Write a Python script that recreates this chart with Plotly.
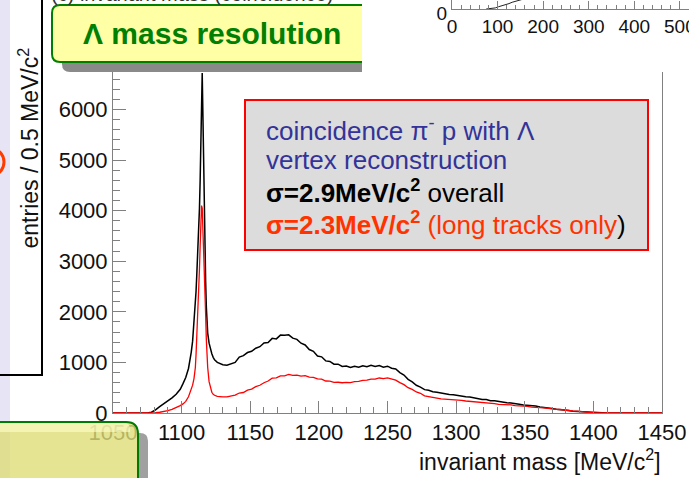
import plotly.graph_objects as go

W, H = 689, 478
FONT = "Liberation Sans, Arial, Helvetica, sans-serif"

# invariant mass sampling points [MeV/c^2]
mass = [
    1050, 1060, 1070, 1075, 1078, 1081, 1084, 1087, 1090, 1093, 1096, 1099,
    1101, 1103, 1105, 1106, 1107, 1108, 1109, 1110,
    1110.5, 1111, 1111.5, 1112, 1112.5, 1113, 1113.5, 1114, 1114.5, 1115,
    1115.5, 1116, 1116.5, 1117, 1117.5, 1118, 1118.5, 1119,
    1120, 1121, 1122, 1123, 1124, 1126, 1128, 1130,
    1133, 1136, 1139, 1142, 1145, 1148, 1151, 1154, 1157, 1160,
    1163, 1166, 1169, 1172, 1175, 1178, 1181, 1184, 1187, 1190,
    1193, 1196, 1199, 1202, 1205, 1208, 1211, 1214, 1217, 1220,
    1223, 1226, 1229, 1232, 1235, 1238, 1241, 1244, 1247, 1250,
    1253, 1256, 1259, 1262, 1265, 1268, 1271, 1274, 1277, 1280,
    1283, 1286, 1289, 1292, 1295, 1298, 1301, 1304, 1307, 1310,
    1313, 1316, 1319, 1322, 1325, 1328, 1331, 1334, 1337, 1340,
    1343, 1346, 1349, 1352, 1355, 1358, 1361, 1364, 1367, 1370,
    1373, 1376, 1379, 1382, 1385, 1388, 1391, 1394, 1397, 1400,
    1410, 1420, 1430, 1440, 1450,
]

# entries / 0.5 MeV/c^2, all pi- p coincidences
entries_all = [
    0, 0, 0, 0, 15, 60, 125, 180, 235, 300, 370, 470,
    580, 700, 880, 1020, 1200, 1420, 1750, 2150,
    2400, 2700, 3000, 3300, 3650, 4050, 4600, 5400, 6400, 6720,
    5900, 4900, 4000, 3250, 2600, 2100, 1800, 1580,
    1380, 1250, 1170, 1100, 1050, 1000, 970, 955,
    945, 970, 1000, 1105, 1135, 1195, 1220, 1280, 1310, 1385,
    1395, 1475, 1465, 1540, 1535, 1545, 1480, 1455, 1380, 1345,
    1255, 1220, 1125, 1110, 1030, 1020, 965, 965, 920, 930,
    900, 925, 905, 935, 915, 945, 920, 940, 905, 925,
    885, 870, 800, 750, 665, 615, 548, 512, 462, 450,
    420, 410, 390, 385, 365, 362, 346, 340, 320, 314,
    294, 289, 266, 265, 244, 241, 224, 218, 201, 199,
    180, 175, 159, 155, 141, 138, 118, 113, 95, 90,
    76, 70, 56, 50, 36, 32, 20, 16, 8, 5,
    1, 0, 0, 0, 0,
]

# entries / 0.5 MeV/c^2, long tracks only
entries_long = [
    0, 0, 0, 0, 3, 8, 15, 28, 45, 70, 105, 145,
    180, 230, 320, 390, 460, 550, 680, 900,
    1150, 1450, 1800, 2150, 2500, 2850, 3300, 3800, 4100, 4050,
    3700, 3200, 2850, 2500, 1950, 1450, 1150, 900,
    620, 480, 410, 370, 350, 330, 322, 318,
    318, 340, 355, 395, 405, 452, 472, 522, 548, 598,
    632, 688, 695, 735, 735, 762, 742, 750, 730, 738,
    710, 706, 675, 668, 632, 630, 606, 608, 598, 604,
    602, 620, 625, 646, 648, 670, 668, 692, 680, 694,
    668, 650, 600, 560, 500, 466, 416, 390, 340, 322,
    296, 293, 279, 275, 265, 265, 255, 251, 237, 231,
    219, 215, 201, 201, 187, 185, 172, 173, 161, 161,
    147, 145, 131, 129, 117, 119, 107, 103, 89, 87,
    73, 69, 55, 53, 40, 38, 26, 22, 12, 9,
    2, 0, 0, 0, 0,
]

x_ticks = [1050, 1100, 1150, 1200, 1250, 1300, 1350, 1400, 1450]
y_ticks = [0, 1000, 2000, 3000, 4000, 5000, 6000]

# small neighbouring panel (top right)
inset_x = [75, 85, 95, 102, 110, 118, 125, 132, 140, 150, 160]
inset_y = [0, 0.5, 1.2, 2.5, 3.5, 4.8, 6.0, 7.5, 8.5, 10.0, 11.5]
inset_ticks = [0, 100, 200, 300, 400, 500]


def px(x):
    return x / W


def py(y):
    return 1 - y / H


def rounded_path(x0, y0, x1, y1, r_tl=0, r_tr=0, r_br=0, r_bl=0):
    """Rounded rectangle in pixel coords -> closed SVG path in paper coords."""
    def P(x, y):
        return f"{px(x):.5f},{py(y):.5f}"
    segs = [f"M{P(x0 + r_tl, y0)}",
            f"L{P(x1 - r_tr, y0)}",
            f"Q{P(x1, y0)} {P(x1, y0 + r_tr)}",
            f"L{P(x1, y1 - r_br)}",
            f"Q{P(x1, y1)} {P(x1 - r_br, y1)}",
            f"L{P(x0 + r_bl, y1)}",
            f"Q{P(x0, y1)} {P(x0, y1 - r_bl)}",
            f"L{P(x0, y0 + r_tl)}",
            f"Q{P(x0, y0)} {P(x0 + r_tl, y0)}"]
    return " ".join(segs) + " Z"


def open_path(points):
    def P(x, y):
        return f"{px(x):.5f},{py(y):.5f}"
    out = []
    for i, p in enumerate(points):
        if p[0] == "Q":
            out.append(f"Q{P(*p[1])} {P(*p[2])}")
        else:
            out.append(("M" if i == 0 else "L") + P(*p))
    return " ".join(out)


fig = go.Figure()

fig.add_trace(go.Scatter(
    x=mass, y=entries_all, mode="lines",
    line=dict(color="#000000", width=1.5),
    xaxis="x", yaxis="y", hoverinfo="skip"))
fig.add_trace(go.Scatter(
    x=mass, y=entries_long, mode="lines",
    line=dict(color="#ff0000", width=1.3),
    xaxis="x", yaxis="y", hoverinfo="skip"))
fig.add_trace(go.Scatter(
    x=inset_x, y=inset_y, mode="lines",
    line=dict(color="#222222", width=1),
    xaxis="x2", yaxis="y2", hoverinfo="skip"))

AX = "#808080"

shapes = []

# lavender slide strip on the left edge
shapes.append(dict(type="rect", xref="paper", yref="paper",
                   x0=px(-5), x1=px(10), y0=py(-5), y1=py(H + 5),
                   fillcolor="#e6e4f5", line=dict(width=0), layer="above"))
# frame of the neighbouring panel
shapes.append(dict(type="rect", xref="paper", yref="paper",
                   x0=px(-5), x1=px(42), y0=py(-5), y1=py(375),
                   fillcolor="rgba(0,0,0,0)",
                   line=dict(color="#000000", width=2), layer="above"))
# orange circle marker, mostly off the left edge
shapes.append(dict(type="circle", xref="paper", yref="paper",
                   x0=px(-24), x1=px(4), y0=py(148), y1=py(176),
                   fillcolor="rgba(0,0,0,0)",
                   line=dict(color="#ff3c00", width=3), layer="above"))

# title box: shadow, fill, border (cut on the right)
shapes.append(dict(type="path", xref="paper", yref="paper",
                   path=rounded_path(62, 15, 362, 72, r_tl=8, r_bl=8),
                   fillcolor="#8a8a8a", line=dict(width=0), layer="above"))
shapes.append(dict(type="path", xref="paper", yref="paper",
                   path=rounded_path(52, 5, 362, 62, r_tl=8, r_bl=8),
                   fillcolor="#ffffa6", line=dict(width=0), layer="above"))
shapes.append(dict(type="path", xref="paper", yref="paper",
                   path=open_path([(362, 5), (60, 5), ("Q", (52, 5), (52, 13)),
                                   (52, 54), ("Q", (52, 62), (60, 62)),
                                   (362, 62)]),
                   fillcolor="rgba(0,0,0,0)",
                   line=dict(color="#008000", width=2), layer="above"))

# statistics box
shapes.append(dict(type="rect", xref="paper", yref="paper",
                   x0=px(245), x1=px(648), y0=py(100), y1=py(250),
                   fillcolor="#dcdcdc",
                   line=dict(color="#ff0000", width=2), layer="above"))

# bottom-left slide box (semi-transparent) with its shadow on the right
shapes.append(dict(type="path", xref="paper", yref="paper",
                   path=rounded_path(138, 433, 148, 500, r_tr=8),
                   fillcolor="#a0a0a0", line=dict(width=0), layer="above"))
shapes.append(dict(type="path", xref="paper", yref="paper",
                   path=rounded_path(-10, 422, 138, 500, r_tr=12),
                   fillcolor="rgba(222,221,120,0.8)", line=dict(width=0),
                   layer="above"))
shapes.append(dict(type="path", xref="paper", yref="paper",
                   path=rounded_path(-10, 423, 130, 432, r_tr=6),
                   fillcolor="rgba(255,255,200,0.6)", line=dict(width=0),
                   layer="above"))
shapes.append(dict(type="path", xref="paper", yref="paper",
                   path=open_path([(-10, 422), (126, 422),
                                   ("Q", (138, 422), (138, 434)),
                                   (138, 500)]),
                   fillcolor="rgba(0,0,0,0)",
                   line=dict(color="#007a00", width=2), layer="above"))

annotations = []


def text(x, y, s, size, color, xanchor="left", yanchor="middle", angle=0):
    annotations.append(dict(
        xref="paper", yref="paper", x=px(x), y=py(y), text=s,
        showarrow=False, xanchor=xanchor, yanchor=yanchor, textangle=angle,
        font=dict(family=FONT, size=size, color=color), borderpad=0))


# partially hidden heading of the neighbouring panel
text(50, 6, "(c) invariant mass (coincidence)", 20, "#333333",
     yanchor="bottom")

text(212, 33, "<b>Λ mass resolution</b>", 30, "#008000", xanchor="center")

text(265, 129, "coincidence π<sup>-</sup> p with Λ", 26, "#333399")
text(265, 160, "vertex reconstruction", 26, "#333399")
text(265, 192, "<b>σ=2.9MeV/c<sup>2</sup></b> overall", 26, "#000000")
text(265, 223,
     "<b>σ=2.3MeV/c<sup>2</sup></b> (long tracks only"
     "<span style='color:#000000'>)</span>", 26, "#ff3300")

text(662, 460, "invariant mass [MeV/c<sup>2</sup>]", 23, "#111111",
     xanchor="right")
text(28, 250, "entries / 0.5 MeV/c<sup>2</sup>", 23, "#111111",
     xanchor="center", yanchor="bottom", angle=-90)

fig.update_layout(
    width=W, height=H,
    margin=dict(l=0, r=0, t=0, b=0, pad=0),
    autosize=False,
    paper_bgcolor="white", plot_bgcolor="white",
    showlegend=False,
    xaxis=dict(
        domain=[px(113), px(662)], range=[1050, 1450], anchor="y",
        automargin=False, ticklabeloverflow="allow",
        tickmode="array", tickvals=x_ticks, ticks="inside", ticklen=12,
        tickwidth=1, tickcolor=AX,
        minor=dict(tickmode="linear", tick0=1050, dtick=10, ticks="inside",
                   ticklen=6, tickwidth=1, tickcolor=AX),
        showline=True, linecolor=AX, linewidth=1, mirror=False,
        showgrid=False, zeroline=False,
        tickfont=dict(family=FONT, size=22, color="#111111")),
    yaxis=dict(
        domain=[1 - 413 / H, 1 - 72 / H], range=[0, 6740], anchor="x",
        automargin=False, ticklabeloverflow="allow",
        tickmode="array", tickvals=y_ticks, ticks="inside", ticklen=13,
        tickwidth=1, tickcolor=AX,
        minor=dict(tickmode="linear", tick0=0, dtick=200, ticks="inside",
                   ticklen=7, tickwidth=1, tickcolor=AX),
        showline=True, linecolor=AX, linewidth=1, mirror=True,
        showgrid=False, zeroline=False,
        tickfont=dict(family=FONT, size=22, color="#111111")),
    xaxis2=dict(
        domain=[px(452), 1], range=[0, 520], anchor="y2",
        automargin=False, ticklabeloverflow="allow",
        tickmode="array", tickvals=inset_ticks, ticks="inside", ticklen=8,
        tickwidth=1, tickcolor=AX,
        minor=dict(tickmode="linear", tick0=0, dtick=20, ticks="inside",
                   ticklen=4, tickwidth=1, tickcolor=AX),
        showline=True, linecolor=AX, linewidth=1,
        showgrid=False, zeroline=False,
        tickfont=dict(family=FONT, size=19, color="#111111")),
    yaxis2=dict(
        domain=[1 - 9 / H, 1], range=[0, 10], anchor="x2",
        automargin=False, ticklabeloverflow="allow", ticklabelshift=4,
        tickmode="array", tickvals=[0], ticktext=["0"], ticks="",
        showline=True, linecolor=AX, linewidth=1,
        showgrid=False, zeroline=False,
        tickfont=dict(family=FONT, size=19, color="#111111")),
    shapes=shapes,
    annotations=annotations,
)

fig.write_html("out.html")
